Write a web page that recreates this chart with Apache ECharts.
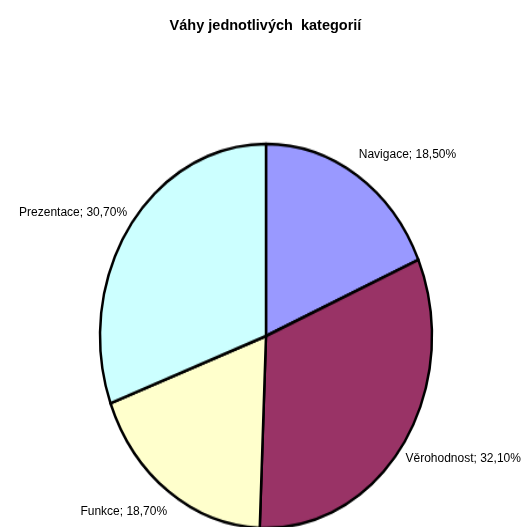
<!DOCTYPE html>
<html>
<head>
<meta charset="utf-8">
<script src="https://cdn.jsdelivr.net/npm/echarts@6/dist/echarts.min.js"></script>
<style>
  html, body { margin: 0; padding: 0; background: #fff; }
  #wrap { position: relative; width: 531px; height: 527px; overflow: hidden; }
  /* 饼图本体：纵向拉伸成椭圆 */
  #pie { position: absolute; left: 0; top: 0; width: 531px; height: 527px;
         transform: scaleY(1.157); transform-origin: 266px 336px; }
  /* 标题和标签放在上层 */
  #main { position: absolute; left: 0; top: 0; width: 531px; height: 527px; }
</style>
</head>
<body>
<div id="wrap">
  <div id="pie"></div>
  <div id="main"></div>
</div>
<script>
// 数据
var categories = ["Navigace", "Věrohodnost", "Funkce", "Prezentace"];
var values = [18.5, 32.1, 18.7, 30.7];
var colors = ["#9999ff", "#993366", "#ffffcc", "#ccffff"];

var cx = 266, cy = 336, rx = 166, ry = 192;

var pieData = categories.map(function (name, i) {
  return { name: name, value: values[i] };
});

// 椭圆饼图（下层）
(function () {
  var myChart = echarts.init(document.querySelector("#pie"));
  var option = {
    animation: false,
    color: colors,
    series: [
      {
        type: "pie",
        center: [cx, cy],
        radius: [0, rx],
        startAngle: 90,
        clockwise: true,
        label: { show: false },
        labelLine: { show: false },
        itemStyle: {
          borderColor: "#000",
          borderWidth: 2.5
        },
        data: pieData
      }
    ]
  };
  myChart.setOption(option);
})();

// 标题和标签（上层）
(function () {
  var myChart = echarts.init(document.querySelector("#main"));
  var total = values.reduce(function (a, b) { return a + b; }, 0);
  // 每块扇形中线的角度（从顶部顺时针）
  var midAngles = [];
  var acc = 0;
  values.forEach(function (v) {
    midAngles.push((acc + v / 2) / total * Math.PI * 2);
    acc += v;
  });
  var option = {
    animation: false,
    title: {
      text: "Váhy jednotlivých  kategorií",
      left: "center",
      top: 13,
      textStyle: {
        color: "#000",
        fontSize: 14.5,
        fontWeight: "bold",
        fontFamily: "Liberation Sans, Arial, sans-serif"
      }
    },
    series: [
      {
        type: "pie",
        center: [cx, cy],
        radius: [0, rx],
        startAngle: 90,
        clockwise: true,
        silent: true,
        itemStyle: { color: "rgba(0,0,0,0)" },
        label: {
          show: true,
          position: "outside",
          overflow: "none",
          color: "#000",
          fontSize: 12,
          fontFamily: "Liberation Sans, Arial, sans-serif",
          formatter: function (p) {
            return p.name + "; " + p.value.toFixed(2).replace(".", ",") + "%";
          }
        },
        labelLine: { show: false },
        labelLayout: function (params) {
          var a = midAngles[params.dataIndex];
          var s = Math.sin(a), c = Math.cos(a);
          return {
            x: cx + s * (rx + 3),
            y: cy - c * (ry + 25),
            align: s >= 0 ? "left" : "right",
            verticalAlign: "middle"
          };
        },
        data: pieData
      }
    ]
  };
  myChart.setOption(option);
})();
</script>
</body>
</html>
